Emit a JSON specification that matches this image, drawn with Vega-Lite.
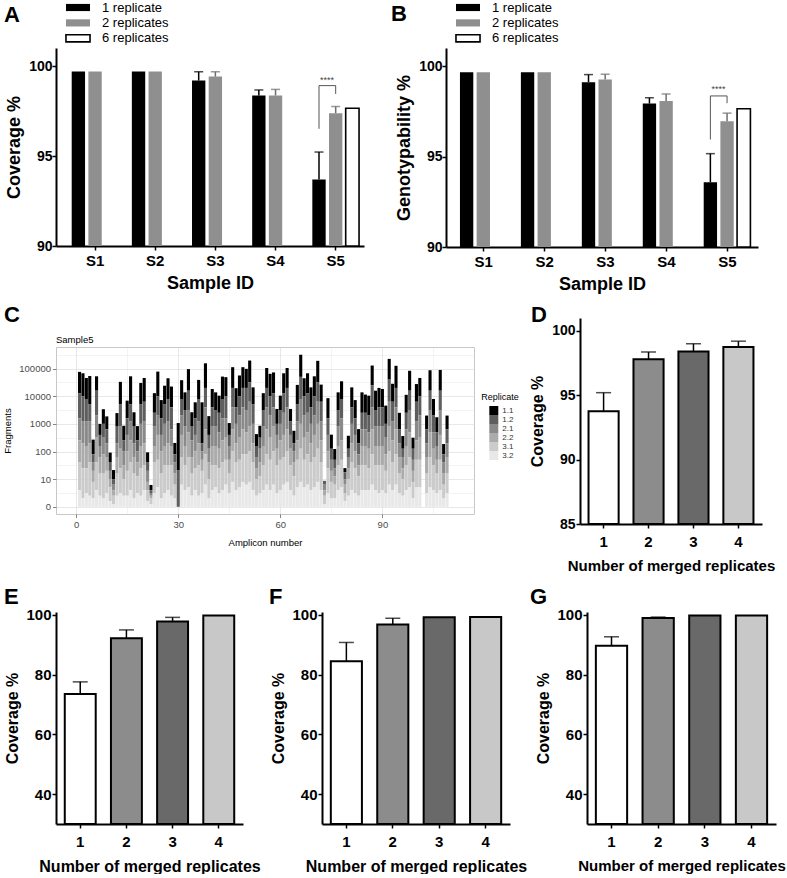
{
  "$schema": "https://vega.github.io/schema/vega-lite/v6.json",
  "padding": {"left": 2, "top": 0, "right": 2, "bottom": 0},
  "background": "white",
  "config": {
    "font": "Liberation Sans",
    "view": {"stroke": null},
    "axis": {"domainColor": "#000", "domainWidth": 2, "tickColor": "#000", "tickWidth": 1.5, "tickSize": 4, "labelColor": "#000", "labelFont": "Liberation Sans", "labelFontWeight": "bold", "labelFontSize": 14, "labelPadding": 2, "titleFont": "Liberation Sans", "titleFontWeight": "bold", "titleColor": "#000", "grid": false},
    "axisX": {"labelAngle": 0},
    "title": {"font": "Liberation Sans", "fontSize": 22, "fontWeight": "bold", "anchor": "start", "frame": "group", "offset": 0, "color": "#000", "baseline": "alphabetic"}
  },
  "datasets": {
    "frag": [
      {"a":1,"r32":0.6,"r31":1.0,"r22":0.8,"r21":0.8,"r12":0.9,"r11":0.78},
      {"a":2,"r32":0.3,"r31":1.1,"r22":0.9,"r21":0.8,"r12":0.9,"r11":0.83},
      {"a":3,"r32":0.5,"r31":0.9,"r22":0.8,"r21":0.9,"r12":0.8,"r11":0.76},
      {"a":4,"r32":0.4,"r31":1.2,"r22":0.7,"r21":0.8,"r12":0.6,"r11":1.03},
      {"a":5,"r32":0.3,"r31":0.6,"r22":0.4,"r21":0.3,"r12":0.3,"r11":0.53},
      {"a":6,"r32":0.6,"r31":1.0,"r22":0.9,"r21":0.8,"r12":0.9,"r11":0.52},
      {"a":7,"r32":0.4,"r31":0.8,"r22":0.6,"r21":0.4,"r12":0.4,"r11":0.4},
      {"a":8,"r32":0.3,"r31":0.9,"r22":0.7,"r21":0.6,"r12":0.5,"r11":0.53},
      {"a":9,"r32":0.5,"r31":0.8,"r22":0.5,"r21":0.5,"r12":0.5,"r11":0.47},
      {"a":10,"r32":0.2,"r31":0.5,"r22":0.3,"r21":0.3,"r12":0.3,"r11":0.36},
      {"a":11,"r32":0.1,"r31":0.3,"r22":0.2,"r21":0.2,"r12":0.2,"r11":0.33},
      {"a":12,"r32":0.4,"r31":0.8,"r22":0.6,"r21":0.5,"r12":0.6,"r11":0.49},
      {"a":13,"r32":0.5,"r31":0.9,"r22":0.7,"r21":0.8,"r12":0.8,"r11":0.82},
      {"a":14,"r32":0.4,"r31":0.6,"r22":0.5,"r21":0.5,"r12":0.4,"r11":0.53},
      {"a":15,"r32":0.4,"r31":0.9,"r22":0.7,"r21":0.6,"r12":0.6,"r11":0.64},
      {"a":16,"r32":0.6,"r31":1.0,"r22":0.8,"r21":0.7,"r12":0.6,"r11":1.02},
      {"a":17,"r32":0.3,"r31":0.9,"r22":0.6,"r21":0.5,"r12":0.6,"r11":0.52},
      {"a":18,"r32":0.5,"r31":0.6,"r22":0.5,"r21":0.4,"r12":0.4,"r11":0.52},
      {"a":19,"r32":0.4,"r31":1.0,"r22":0.8,"r21":0.8,"r12":0.7,"r11":0.78},
      {"a":20,"r32":0.6,"r31":0.9,"r22":0.8,"r21":0.8,"r12":0.7,"r11":0.86},
      {"a":21,"r32":0.2,"r31":0.4,"r22":0.3,"r21":0.4,"r12":0.3,"r11":0.37},
      {"a":22,"r32":0.1,"r31":0.2,"r22":0.1,"r21":0.1,"r12":0.1,"r11":0.19},
      {"a":23,"r32":0.5,"r31":1.1,"r22":0.6,"r21":0.7,"r12":0.5,"r11":0.71},
      {"a":24,"r32":0.7,"r31":1.0,"r22":0.9,"r21":0.7,"r12":0.7,"r11":0.89},
      {"a":25,"r32":0.3,"r31":0.9,"r22":0.8,"r21":0.6,"r12":0.6,"r11":0.66},
      {"a":26,"r32":0.5,"r31":1.0,"r22":0.7,"r21":0.8,"r12":0.7,"r11":0.68},
      {"a":27,"r32":0.6,"r31":0.9,"r22":0.8,"r21":0.8,"r12":0.8,"r11":0.75},
      {"a":28,"r32":0.4,"r31":1.1,"r22":0.7,"r21":0.6,"r12":0.8,"r11":0.75},
      {"a":29,"r32":0.3,"r31":0.5,"r22":0.4,"r21":0.4,"r12":0.3,"r11":0.41},
      {"a":30,"r32":0,"r31":0,"r22":0,"r21":0,"r12":1.33,"r11":1.7},
      {"a":31,"r32":0.8,"r31":1.0,"r22":0.8,"r21":0.7,"r12":0.6,"r11":0.68},
      {"a":32,"r32":0.6,"r31":0.9,"r22":0.7,"r21":0.7,"r12":0.6,"r11":0.64},
      {"a":33,"r32":0.7,"r31":1.1,"r22":0.9,"r21":0.8,"r12":0.7,"r11":0.78},
      {"a":34,"r32":0.4,"r31":0.8,"r22":0.6,"r21":0.6,"r12":0.5,"r11":0.52},
      {"a":35,"r32":0.6,"r31":0.8,"r22":0.6,"r21":0.6,"r12":0.6,"r11":0.58},
      {"a":36,"r32":0.4,"r31":1.1,"r22":0.8,"r21":0.8,"r12":0.8,"r11":0.69},
      {"a":37,"r32":0.5,"r31":0.8,"r22":0.4,"r21":0.3,"r12":0.3,"r11":1.48},
      {"a":38,"r32":0.8,"r31":1.1,"r22":0.9,"r21":0.8,"r12":0.7,"r11":0.89},
      {"a":39,"r32":0.3,"r31":0.7,"r22":0.6,"r21":0.5,"r12":0.5,"r11":0.68},
      {"a":40,"r32":0.6,"r31":0.9,"r22":0.7,"r21":0.7,"r12":0.7,"r11":0.66},
      {"a":41,"r32":0.7,"r31":0.8,"r22":0.7,"r21":0.7,"r12":0.6,"r11":0.64},
      {"a":42,"r32":0.5,"r31":0.9,"r22":0.7,"r21":0.6,"r12":0.7,"r11":0.62},
      {"a":43,"r32":0.6,"r31":1.0,"r22":0.8,"r21":0.8,"r12":0.7,"r11":0.81},
      {"a":44,"r32":0.8,"r31":0.9,"r22":0.8,"r21":0.7,"r12":0.8,"r11":0.69},
      {"a":45,"r32":0.5,"r31":0.7,"r22":0.5,"r21":0.5,"r12":0.4,"r11":0.43},
      {"a":46,"r32":0.9,"r31":1.1,"r22":0.8,"r21":0.8,"r12":0.7,"r11":0.75},
      {"a":47,"r32":0.6,"r31":1.0,"r22":0.7,"r21":0.7,"r12":0.6,"r11":0.69},
      {"a":48,"r32":0.7,"r31":1.0,"r22":0.8,"r21":0.8,"r12":0.7,"r11":0.75},
      {"a":49,"r32":0.9,"r31":1.0,"r22":0.9,"r21":0.8,"r12":0.7,"r11":0.75},
      {"a":50,"r32":0.8,"r31":1.1,"r22":0.8,"r21":0.8,"r12":0.8,"r11":0.69},
      {"a":51,"r32":0.9,"r31":1.1,"r22":0.9,"r21":0.9,"r12":0.7,"r11":0.79},
      {"a":52,"r32":0.6,"r31":1.0,"r22":0.7,"r21":0.7,"r12":0.7,"r11":0.62},
      {"a":53,"r32":0.4,"r31":0.6,"r22":0.4,"r21":0.4,"r12":0.4,"r11":0.43},
      {"a":54,"r32":0.5,"r31":0.6,"r22":0.5,"r21":0.5,"r12":0.4,"r11":0.43},
      {"a":55,"r32":0.6,"r31":0.9,"r22":0.7,"r21":0.7,"r12":0.6,"r11":0.61},
      {"a":56,"r32":0.8,"r31":1.1,"r22":0.9,"r21":0.8,"r12":0.7,"r11":0.72},
      {"a":57,"r32":0.6,"r31":1.1,"r22":0.8,"r21":0.8,"r12":0.7,"r11":0.81},
      {"a":58,"r32":0.8,"r31":1.2,"r22":0.9,"r21":0.7,"r12":0.5,"r11":0.76},
      {"a":59,"r32":0.5,"r31":1.0,"r22":0.6,"r21":0.5,"r12":0.4,"r11":0.54},
      {"a":60,"r32":0.6,"r31":1.1,"r22":0.7,"r21":0.6,"r12":0.5,"r11":0.52},
      {"a":61,"r32":0.8,"r31":1.0,"r22":0.8,"r21":0.8,"r12":0.7,"r11":0.73},
      {"a":62,"r32":0.9,"r31":1.1,"r22":0.8,"r21":0.8,"r12":0.7,"r11":0.72},
      {"a":63,"r32":0.6,"r31":0.9,"r22":0.6,"r21":0.5,"r12":0.5,"r11":0.44},
      {"a":64,"r32":0.4,"r31":0.7,"r22":0.5,"r21":0.4,"r12":0.3,"r11":0.45},
      {"a":65,"r32":0.7,"r31":1.0,"r22":0.7,"r21":0.7,"r12":0.6,"r11":0.71},
      {"a":66,"r32":0.9,"r31":1.2,"r22":0.9,"r21":0.9,"r12":0.8,"r11":0.8},
      {"a":67,"r32":0.7,"r31":1.0,"r22":0.8,"r21":0.8,"r12":0.7,"r11":0.65},
      {"a":68,"r32":0.8,"r31":1.1,"r22":0.8,"r21":0.7,"r12":0.7,"r11":0.73},
      {"a":69,"r32":0.6,"r31":1.0,"r22":0.7,"r21":0.7,"r12":0.6,"r11":0.72},
      {"a":70,"r32":0.7,"r31":1.1,"r22":0.8,"r21":0.7,"r12":0.7,"r11":0.72},
      {"a":71,"r32":0.9,"r31":1.2,"r22":0.9,"r21":0.8,"r12":0.7,"r11":0.78},
      {"a":72,"r32":0.6,"r31":1.0,"r22":0.8,"r21":0.7,"r12":0.7,"r11":0.62},
      {"a":73,"r32":0.1,"r31":0.3,"r22":0.2,"r21":0.2,"r12":0.14,"r11":0},
      {"a":74,"r32":0.5,"r31":0.9,"r22":0.6,"r21":0.6,"r12":0.6,"r11":0.73},
      {"a":75,"r32":0.3,"r31":0.6,"r22":0.4,"r21":0.4,"r12":0.4,"r11":0.51},
      {"a":76,"r32":0.3,"r31":0.5,"r22":0.3,"r21":0.3,"r12":0.3,"r11":0.39},
      {"a":77,"r32":0.6,"r31":0.9,"r22":0.7,"r21":0.7,"r12":0.6,"r11":0.64},
      {"a":78,"r32":0.7,"r31":1.0,"r22":0.7,"r21":0.8,"r12":0.7,"r11":0.64},
      {"a":79,"r32":0.2,"r31":0.3,"r22":0.3,"r21":0.2,"r12":0.25,"r11":0.15},
      {"a":80,"r32":0.4,"r31":0.6,"r22":0.4,"r21":0.4,"r12":0.3,"r11":0.47},
      {"a":81,"r32":0.6,"r31":1.0,"r22":0.7,"r21":0.7,"r12":0.6,"r11":0.72},
      {"a":82,"r32":0.5,"r31":0.9,"r22":0.6,"r21":0.6,"r12":0.6,"r11":0.66},
      {"a":83,"r32":0.4,"r31":0.7,"r22":0.4,"r21":0.4,"r12":0.4,"r11":0.51},
      {"a":84,"r32":0.6,"r31":0.9,"r22":0.7,"r21":0.6,"r12":0.6,"r11":0.74},
      {"a":85,"r32":0.6,"r31":0.9,"r22":0.7,"r21":0.6,"r12":0.6,"r11":0.66},
      {"a":86,"r32":0.6,"r31":0.8,"r22":0.7,"r21":0.6,"r12":0.6,"r11":0.72},
      {"a":87,"r32":0.8,"r31":1.1,"r22":0.9,"r21":0.8,"r12":0.8,"r11":0.71},
      {"a":88,"r32":0.6,"r31":0.9,"r22":0.7,"r21":0.7,"r12":0.6,"r11":0.7},
      {"a":89,"r32":0.5,"r31":1.0,"r22":0.7,"r21":0.7,"r12":0.7,"r11":0.7},
      {"a":90,"r32":0.6,"r31":0.9,"r22":0.7,"r21":0.7,"r12":0.7,"r11":0.66},
      {"a":91,"r32":0.5,"r31":0.8,"r22":0.6,"r21":0.6,"r12":0.5,"r11":0.66},
      {"a":92,"r32":0.8,"r31":1.2,"r22":0.9,"r21":0.9,"r12":0.8,"r11":0.75},
      {"a":93,"r32":0.6,"r31":1.0,"r22":0.8,"r21":0.7,"r12":0.7,"r11":0.65},
      {"a":94,"r32":0.8,"r31":1.1,"r22":0.9,"r21":0.8,"r12":0.7,"r11":0.8},
      {"a":95,"r32":0.5,"r31":0.7,"r22":0.6,"r21":0.5,"r12":0.5,"r11":0.6},
      {"a":96,"r32":0.4,"r31":0.6,"r22":0.4,"r21":0.4,"r12":0.3,"r11":0.46},
      {"a":97,"r32":0.6,"r31":0.9,"r22":0.7,"r21":0.6,"r12":0.6,"r11":0.65},
      {"a":98,"r32":0.7,"r31":1.1,"r22":0.9,"r21":0.8,"r12":0.7,"r11":0.72},
      {"a":99,"r32":0.3,"r31":0.6,"r22":0.4,"r21":0.4,"r12":0.4,"r11":0.4},
      {"a":100,"r32":0.7,"r31":1.0,"r22":0.7,"r21":0.7,"r12":0.7,"r11":0.64},
      {"a":101,"r32":0.7,"r31":1.0,"r22":0.8,"r21":0.8,"r12":0.7,"r11":0.66},
      {"a":103,"r32":0.5,"r31":0.7,"r22":0.6,"r21":0.5,"r12":0.5,"r11":0.5},
      {"a":104,"r32":0.7,"r31":1.1,"r22":0.9,"r21":0.8,"r12":0.7,"r11":0.74},
      {"a":105,"r32":0.6,"r31":0.9,"r22":0.6,"r21":0.6,"r12":0.6,"r11":0.6},
      {"a":106,"r32":0.5,"r31":0.7,"r22":0.5,"r21":0.5,"r12":0.5,"r11":0.54},
      {"a":107,"r32":0.6,"r31":1.1,"r22":0.9,"r21":0.9,"r12":0.7,"r11":0.75},
      {"a":108,"r32":0.3,"r31":0.5,"r22":0.4,"r21":0.4,"r12":0.3,"r11":0.37},
      {"a":109,"r32":0.5,"r31":0.7,"r22":0.6,"r21":0.5,"r12":0.5,"r11":0.5}
    ]
  },
  "vconcat": [
    {
      "spacing": 11,
      "vconcat": [
        {
          "spacing": 27,
          "resolve": {"scale": {"fill": "independent", "stroke": "independent"}, "legend": {"fill": "independent", "stroke": "independent"}},
          "hconcat": [
            {
              "width": 308, "height": 198,
              "title": {"text": "A", "dx": -52, "dy": 31},
              "layer": [
                {
                  "data": {"values": [
                    {"s":"S1","r":"1 replicate","v":99.70},
                    {"s":"S1","r":"2 replicates","v":99.70},
                    {"s":"S2","r":"1 replicate","v":99.70},
                    {"s":"S2","r":"2 replicates","v":99.70},
                    {"s":"S3","r":"1 replicate","v":99.19,"hi":99.68},
                    {"s":"S3","r":"2 replicates","v":99.41,"hi":99.68},
                    {"s":"S4","r":"1 replicate","v":98.36,"hi":98.67},
                    {"s":"S4","r":"2 replicates","v":98.36,"hi":98.70},
                    {"s":"S5","r":"1 replicate","v":93.69,"hi":95.22},
                    {"s":"S5","r":"2 replicates","v":97.38,"hi":97.75},
                    {"s":"S5","r":"6 replicates","v":97.65}
                  ]},
                  "layer": [
                    {
                      "mark": {"type": "bar", "strokeWidth": 1.6},
                      "encoding": {
                        "x": {"field": "s", "type": "nominal", "scale": {"paddingInner": 0.168, "paddingOuter": 0.144, "align": 0.81}, "axis": {"title": "Sample ID", "titleFontSize": 18, "titlePadding": 6, "labelPadding": 3, "labelFontSize": 15}},
                        "xOffset": {"field": "r", "type": "nominal", "scale": {"paddingInner": 0.2, "paddingOuter": 0.1}},
                        "y": {"field": "v", "type": "quantitative", "scale": {"domain": [90, 101], "nice": false, "zero": false}, "axis": {"values": [90, 95, 100], "title": "Coverage %", "titleFontSize": 18, "titlePadding": 5, "labelPadding": 0}},
                        "y2": {"datum": 90},
                        "fill": {"field": "r", "type": "nominal", "scale": {"domain": ["1 replicate", "2 replicates", "6 replicates"], "range": ["#000000", "#8f8f8f", "#ffffff"]},
                          "legend": {"orient": "none", "legendX": 14.5, "legendY": -48, "title": null, "symbolType": "M-1.85,-0.55H1.85V0.55H-1.85Z", "symbolSize": 169, "symbolStrokeWidth": 1.6, "labelFontSize": 13, "labelFontWeight": "normal", "labelColor": "#000", "labelOffset": 16.5, "rowPadding": 0.4}},
                        "stroke": {"field": "r", "type": "nominal", "scale": {"domain": ["1 replicate", "2 replicates", "6 replicates"], "range": ["transparent", "transparent", "#000000"]},
                          "legend": {"orient": "none", "legendX": 14.5, "legendY": -48, "title": null, "symbolType": "M-1.85,-0.55H1.85V0.55H-1.85Z", "symbolSize": 169, "symbolStrokeWidth": 1.6, "labelFontSize": 13, "labelFontWeight": "normal", "labelColor": "#000", "labelOffset": 16.5, "rowPadding": 0.4}}
                      }
                    },
                    {
                      "transform": [{"filter": "isValid(datum.hi)"}],
                      "mark": {"type": "rule", "strokeWidth": 1.5},
                      "encoding": {
                        "x": {"field": "s", "type": "nominal"},
                        "xOffset": {"field": "r", "type": "nominal"},
                        "y": {"field": "v", "type": "quantitative"},
                        "y2": {"field": "hi"},
                        "color": {"condition": {"test": "datum.r == '2 replicates'", "value": "#6e6e6e"}, "value": "#000000"}
                      }
                    },
                    {
                      "transform": [{"filter": "isValid(datum.hi)"}],
                      "mark": {"type": "tick", "orient": "horizontal", "size": 9, "thickness": 1.5},
                      "encoding": {
                        "x": {"field": "s", "type": "nominal"},
                        "xOffset": {"field": "r", "type": "nominal"},
                        "y": {"field": "hi", "type": "quantitative"},
                        "color": {"condition": {"test": "datum.r == '2 replicates'", "value": "#6e6e6e"}, "value": "#000000"}
                      }
                    }
                  ]
                },
                {
                  "data": {"values": [
                    {"s":"S5","r":"1 replicate","v":96.51,"k":1},
                    {"s":"S5","r":"1 replicate","v":98.91,"k":2},
                    {"s":"S5","r":"2 replicates","v":98.91,"k":3},
                    {"s":"S5","r":"2 replicates","v":98.45,"k":4}
                  ]},
                  "mark": {"type": "line", "color": "#555555", "strokeWidth": 1},
                  "encoding": {
                    "x": {"field": "s", "type": "nominal"},
                    "xOffset": {"field": "r", "type": "nominal"},
                    "y": {"field": "v", "type": "quantitative"},
                    "order": {"field": "k", "type": "quantitative"}
                  }
                },
                {
                  "data": {"values": [{"s":"S5","r":"1 replicate","v":99.24}]},
                  "mark": {"type": "text", "text": "****", "fontSize": 9, "dx": 8, "color": "#444444", "baseline": "middle"},
                  "encoding": {
                    "x": {"field": "s", "type": "nominal"},
                    "xOffset": {"field": "r", "type": "nominal"},
                    "y": {"field": "v", "type": "quantitative"}
                  }
                }
              ]
            },
            {
              "width": 312, "height": 199,
              "title": {"text": "B", "dx": -55, "dy": 30},
              "layer": [
                {
                  "data": {"values": [
                    {"s":"S1","r":"1 replicate","v":99.66},
                    {"s":"S1","r":"2 replicates","v":99.66},
                    {"s":"S2","r":"1 replicate","v":99.66},
                    {"s":"S2","r":"2 replicates","v":99.66},
                    {"s":"S3","r":"1 replicate","v":99.11,"hi":99.53},
                    {"s":"S3","r":"2 replicates","v":99.26,"hi":99.55},
                    {"s":"S4","r":"1 replicate","v":97.93,"hi":98.25},
                    {"s":"S4","r":"2 replicates","v":98.07,"hi":98.46},
                    {"s":"S5","r":"1 replicate","v":93.58,"hi":95.16},
                    {"s":"S5","r":"2 replicates","v":96.95,"hi":97.40},
                    {"s":"S5","r":"6 replicates","v":97.64}
                  ]},
                  "layer": [
                    {
                      "mark": {"type": "bar", "strokeWidth": 1.6},
                      "encoding": {
                        "x": {"field": "s", "type": "nominal", "scale": {"paddingInner": 0.168, "paddingOuter": 0.144, "align": 0.7}, "axis": {"title": "Sample ID", "titleFontSize": 18, "titlePadding": 6, "labelPadding": 3, "labelFontSize": 15}},
                        "xOffset": {"field": "r", "type": "nominal", "scale": {"paddingInner": 0.2, "paddingOuter": 0.1}},
                        "y": {"field": "v", "type": "quantitative", "scale": {"domain": [90, 101], "nice": false, "zero": false}, "axis": {"values": [90, 95, 100], "title": "Genotypability %", "titleFontSize": 18, "titlePadding": 5, "labelPadding": 0}},
                        "y2": {"datum": 90},
                        "fill": {"field": "r", "type": "nominal", "scale": {"domain": ["1 replicate", "2 replicates", "6 replicates"], "range": ["#000000", "#8f8f8f", "#ffffff"]},
                          "legend": {"orient": "none", "legendX": 14.5, "legendY": -48, "title": null, "symbolType": "M-1.85,-0.55H1.85V0.55H-1.85Z", "symbolSize": 169, "symbolStrokeWidth": 1.6, "labelFontSize": 13, "labelFontWeight": "normal", "labelColor": "#000", "labelOffset": 16.5, "rowPadding": 0.4}},
                        "stroke": {"field": "r", "type": "nominal", "scale": {"domain": ["1 replicate", "2 replicates", "6 replicates"], "range": ["transparent", "transparent", "#000000"]},
                          "legend": {"orient": "none", "legendX": 14.5, "legendY": -48, "title": null, "symbolType": "M-1.85,-0.55H1.85V0.55H-1.85Z", "symbolSize": 169, "symbolStrokeWidth": 1.6, "labelFontSize": 13, "labelFontWeight": "normal", "labelColor": "#000", "labelOffset": 16.5, "rowPadding": 0.4}}
                      }
                    },
                    {
                      "transform": [{"filter": "isValid(datum.hi)"}],
                      "mark": {"type": "rule", "strokeWidth": 1.5},
                      "encoding": {
                        "x": {"field": "s", "type": "nominal"},
                        "xOffset": {"field": "r", "type": "nominal"},
                        "y": {"field": "v", "type": "quantitative"},
                        "y2": {"field": "hi"},
                        "color": {"condition": {"test": "datum.r == '2 replicates'", "value": "#6e6e6e"}, "value": "#000000"}
                      }
                    },
                    {
                      "transform": [{"filter": "isValid(datum.hi)"}],
                      "mark": {"type": "tick", "orient": "horizontal", "size": 9, "thickness": 1.5},
                      "encoding": {
                        "x": {"field": "s", "type": "nominal"},
                        "xOffset": {"field": "r", "type": "nominal"},
                        "y": {"field": "hi", "type": "quantitative"},
                        "color": {"condition": {"test": "datum.r == '2 replicates'", "value": "#6e6e6e"}, "value": "#000000"}
                      }
                    }
                  ]
                },
                {
                  "data": {"values": [
                    {"s":"S5","r":"1 replicate","v":95.94,"k":1},
                    {"s":"S5","r":"1 replicate","v":98.35,"k":2},
                    {"s":"S5","r":"2 replicates","v":98.35,"k":3},
                    {"s":"S5","r":"2 replicates","v":97.95,"k":4}
                  ]},
                  "mark": {"type": "line", "color": "#555555", "strokeWidth": 1},
                  "encoding": {
                    "x": {"field": "s", "type": "nominal"},
                    "xOffset": {"field": "r", "type": "nominal"},
                    "y": {"field": "v", "type": "quantitative"},
                    "order": {"field": "k", "type": "quantitative"}
                  }
                },
                {
                  "data": {"values": [{"s":"S5","r":"1 replicate","v":98.71}]},
                  "mark": {"type": "text", "text": "****", "fontSize": 9, "dx": 8, "color": "#444444", "baseline": "middle"},
                  "encoding": {
                    "x": {"field": "s", "type": "nominal"},
                    "xOffset": {"field": "r", "type": "nominal"},
                    "y": {"field": "v", "type": "quantitative"}
                  }
                }
              ]
            }
          ]
        },
        {
          "spacing": 54,
          "hconcat": [
            {
              "spacing": 0,
              "vconcat": [
                {
                  "width": 418, "height": 16,
                  "title": {"text": "C", "dx": -52, "dy": 13},
                  "data": {"values": []},
                  "mark": {"type": "rule"},
                  "encoding": {}
                },
                {
                  "width": 418, "height": 167,
                  "view": {"stroke": "#c8c8c8", "strokeWidth": 1},
                  "title": {"text": "Sample5", "fontSize": 9.5, "fontWeight": "normal", "offset": 3, "dx": 0, "dy": 0},
                  "data": {"name": "frag"},
                  "transform": [{"fold": ["r11", "r12", "r21", "r22", "r31", "r32"], "as": ["rep", "v"]}],
                  "mark": {"type": "bar", "width": 3.1},
                  "encoding": {
                    "x": {"field": "a", "type": "quantitative", "scale": {"domain": [-4.45, 115.45], "nice": false, "zero": false},
                      "axis": {"values": [0, 15, 30, 45, 60, 75, 90, 105], "labelExpr": "datum.value % 30 == 0 ? datum.label : ''", "labelOverlap": false, "grid": true, "gridColor": "#dedede", "gridWidth": {"condition": {"test": "datum.value % 30 == 0", "value": 0.7}, "value": 0.35}, "tickOpacity": {"condition": {"test": "datum.value % 30 == 0", "value": 1}, "value": 0}, "domain": false, "tickSize": 3.5, "tickWidth": 0.6, "tickColor": "#333333", "labelFontWeight": "normal", "labelFontSize": 9.5, "labelColor": "#4d4d4d", "labelPadding": 2, "title": "Amplicon number", "titleFontWeight": "normal", "titleFontSize": 9.5, "titlePadding": 8}},
                    "y": {"field": "v", "type": "quantitative", "stack": "zero", "scale": {"domain": [-0.26, 5.78], "nice": false, "zero": false},
                      "axis": {"values": [0, 0.5, 1, 1.5, 2, 2.5, 3, 3.5, 4, 4.5, 5, 5.5], "labelExpr": "datum.value % 1 == 0 ? (datum.value == 0 ? '0' : format(pow(10, datum.value), 'd')) : ''", "labelOverlap": false, "grid": true, "gridColor": "#dedede", "gridWidth": {"condition": {"test": "datum.value % 1 == 0", "value": 0.7}, "value": 0.35}, "tickOpacity": {"condition": {"test": "datum.value % 1 == 0", "value": 1}, "value": 0}, "domain": false, "tickSize": 3.5, "tickWidth": 0.6, "tickColor": "#333333", "labelFontWeight": "normal", "labelFontSize": 9.5, "labelColor": "#4d4d4d", "labelPadding": 2, "title": "Fragments", "titleFontWeight": "normal", "titleFontSize": 9.5, "titlePadding": 6}},
                    "color": {"field": "rep", "type": "nominal", "scale": {"domain": ["r11", "r12", "r21", "r22", "r31", "r32"], "range": ["#000000", "#5e5e5e", "#8a8a8a", "#ababab", "#cbcbcb", "#e8e8e8"]},
                      "legend": {"orient": "none", "legendX": 425.3, "legendY": 345, "title": "Replicate", "titleFontSize": 9, "titleFontWeight": "normal", "titleColor": "#000", "titlePadding": 4, "labelFontSize": 8, "labelColor": "#333333", "labelFontWeight": "normal", "symbolType": "square", "symbolSize": 81, "symbolStrokeWidth": 0, "symbolOpacity": 1, "symbolOffset": 8, "rowPadding": 0, "labelOffset": 4, "labelExpr": "substring(datum.label, 1, 2) + '.' + substring(datum.label, 2, 3)"}},
                    "order": {"field": "rep", "sort": "descending"}
                  }
                }
              ]
            },
            {
              "width": 182, "height": 206,
              "title": {"text": "D", "dx": -49, "dy": 13},
              "data": {"values": [
                {"n":"1","v":93.75,"hi":95.2},
                {"n":"2","v":97.8,"hi":98.36},
                {"n":"3","v":98.4,"hi":99.0},
                {"n":"4","v":98.75,"hi":99.2}
              ]},
              "layer": [
                {
                  "mark": {"type": "bar", "stroke": "#000000", "strokeWidth": 2},
                  "encoding": {
                    "x": {"field": "n", "type": "nominal", "scale": {"paddingInner": 0.33, "paddingOuter": 0.19}, "axis": {"title": "Number of merged replicates", "titleFontSize": 15, "titlePadding": 9, "labelPadding": 6, "labelFontSize": 15}},
                    "y": {"field": "v", "type": "quantitative", "scale": {"domain": [85, 101], "nice": false, "zero": false}, "axis": {"values": [85, 90, 95, 100], "title": "Coverage %", "titleFontSize": 16, "titlePadding": 6, "labelPadding": 1, "labelFontSize": 14}},
                    "y2": {"datum": 85},
                    "fill": {"condition": [{"test": "datum.n == '1'", "value": "#ffffff"}, {"test": "datum.n == '2'", "value": "#8c8c8c"}, {"test": "datum.n == '3'", "value": "#696969"}], "value": "#c8c8c8"}
                  }
                },
                {
                  "transform": [{"filter": "isValid(datum.hi)"}],
                  "mark": {"type": "rule", "strokeWidth": 1.5, "color": "#000000"},
                  "encoding": {"x": {"field": "n", "type": "nominal"}, "y": {"field": "v", "type": "quantitative"}, "y2": {"field": "hi"}}
                },
                {
                  "transform": [{"filter": "isValid(datum.hi)"}],
                  "mark": {"type": "tick", "orient": "horizontal", "size": 15, "thickness": 1.5, "color": "#000000"},
                  "encoding": {"x": {"field": "n", "type": "nominal"}, "y": {"field": "hi", "type": "quantitative"}}
                }
              ]
            }
          ]
        }
      ]
    },
    {
      "spacing": 3,
      "hconcat": [
        {
          "spacing": 8,
          "hconcat": [
            {
              "width": 187, "height": 212,
              "title": {"text": "E", "dx": -52, "dy": 5},
              "data": {"values": [
                {"n":"1","v":73.5,"hi":77.6},
                {"n":"2","v":92.2,"hi":95.0},
                {"n":"3","v":97.8,"hi":99.2},
                {"n":"4","v":99.8}
              ]},
              "layer": [
                {
                  "mark": {"type": "bar", "stroke": "#000000", "strokeWidth": 2},
                  "encoding": {
                    "x": {"field": "n", "type": "nominal", "scale": {"paddingInner": 0.33, "paddingOuter": 0.19}, "axis": {"title": "Number of merged replicates", "titleFontSize": 16, "titlePadding": 9, "labelPadding": 6, "labelFontSize": 15}},
                    "y": {"field": "v", "type": "quantitative", "scale": {"domain": [30, 101], "nice": false, "zero": false}, "axis": {"values": [40, 60, 80, 100], "title": "Coverage %", "titleFontSize": 16, "titlePadding": 5, "labelPadding": 1, "labelFontSize": 15}},
                    "y2": {"datum": 30},
                    "fill": {"condition": [{"test": "datum.n == '1'", "value": "#ffffff"}, {"test": "datum.n == '2'", "value": "#8c8c8c"}, {"test": "datum.n == '3'", "value": "#696969"}], "value": "#c8c8c8"}
                  }
                },
                {
                  "transform": [{"filter": "isValid(datum.hi)"}],
                  "mark": {"type": "rule", "strokeWidth": 1.5, "color": "#000000"},
                  "encoding": {"x": {"field": "n", "type": "nominal"}, "y": {"field": "v", "type": "quantitative"}, "y2": {"field": "hi"}}
                },
                {
                  "transform": [{"filter": "isValid(datum.hi)"}],
                  "mark": {"type": "tick", "orient": "horizontal", "size": 15, "thickness": 1.5, "color": "#000000"},
                  "encoding": {"x": {"field": "n", "type": "nominal"}, "y": {"field": "hi", "type": "quantitative"}}
                }
              ]
            },
            {
              "width": 188, "height": 212,
              "title": {"text": "F", "dx": -53, "dy": 5},
              "data": {"values": [
                {"n":"1","v":84.5,"hi":90.8},
                {"n":"2","v":96.8,"hi":98.9},
                {"n":"3","v":99.2},
                {"n":"4","v":99.3}
              ]},
              "layer": [
                {
                  "mark": {"type": "bar", "stroke": "#000000", "strokeWidth": 2},
                  "encoding": {
                    "x": {"field": "n", "type": "nominal", "scale": {"paddingInner": 0.33, "paddingOuter": 0.19}, "axis": {"title": "Number of merged replicates", "titleFontSize": 16, "titlePadding": 9, "labelPadding": 6, "labelFontSize": 15}},
                    "y": {"field": "v", "type": "quantitative", "scale": {"domain": [30, 101], "nice": false, "zero": false}, "axis": {"values": [40, 60, 80, 100], "title": "Coverage %", "titleFontSize": 16, "titlePadding": 5, "labelPadding": 1, "labelFontSize": 15}},
                    "y2": {"datum": 30},
                    "fill": {"condition": [{"test": "datum.n == '1'", "value": "#ffffff"}, {"test": "datum.n == '2'", "value": "#8c8c8c"}, {"test": "datum.n == '3'", "value": "#696969"}], "value": "#c8c8c8"}
                  }
                },
                {
                  "transform": [{"filter": "isValid(datum.hi)"}],
                  "mark": {"type": "rule", "strokeWidth": 1.5, "color": "#000000"},
                  "encoding": {"x": {"field": "n", "type": "nominal"}, "y": {"field": "v", "type": "quantitative"}, "y2": {"field": "hi"}}
                },
                {
                  "transform": [{"filter": "isValid(datum.hi)"}],
                  "mark": {"type": "tick", "orient": "horizontal", "size": 15, "thickness": 1.5, "color": "#000000"},
                  "encoding": {"x": {"field": "n", "type": "nominal"}, "y": {"field": "hi", "type": "quantitative"}}
                }
              ]
            }
          ]
        },
        {
          "width": 189, "height": 212,
          "title": {"text": "G", "dx": -57, "dy": 5},
          "data": {"values": [
            {"n":"1","v":89.7,"hi":92.7},
            {"n":"2","v":99.0,"hi":99.3},
            {"n":"3","v":99.8},
            {"n":"4","v":99.8}
          ]},
          "layer": [
            {
              "mark": {"type": "bar", "stroke": "#000000", "strokeWidth": 2},
              "encoding": {
                "x": {"field": "n", "type": "nominal", "scale": {"paddingInner": 0.33, "paddingOuter": 0.19}, "axis": {"title": "Number of merged replicates", "titleFontSize": 15, "titlePadding": 9, "labelPadding": 6, "labelFontSize": 15}},
                "y": {"field": "v", "type": "quantitative", "scale": {"domain": [30, 101], "nice": false, "zero": false}, "axis": {"values": [40, 60, 80, 100], "title": "Coverage %", "titleFontSize": 16, "titlePadding": 5, "labelPadding": 1, "labelFontSize": 15}},
                "y2": {"datum": 30},
                "fill": {"condition": [{"test": "datum.n == '1'", "value": "#ffffff"}, {"test": "datum.n == '2'", "value": "#8c8c8c"}, {"test": "datum.n == '3'", "value": "#696969"}], "value": "#c8c8c8"}
              }
            },
            {
              "transform": [{"filter": "isValid(datum.hi)"}],
              "mark": {"type": "rule", "strokeWidth": 1.5, "color": "#000000"},
              "encoding": {"x": {"field": "n", "type": "nominal"}, "y": {"field": "v", "type": "quantitative"}, "y2": {"field": "hi"}}
            },
            {
              "transform": [{"filter": "isValid(datum.hi)"}],
              "mark": {"type": "tick", "orient": "horizontal", "size": 15, "thickness": 1.5, "color": "#000000"},
              "encoding": {"x": {"field": "n", "type": "nominal"}, "y": {"field": "hi", "type": "quantitative"}}
            }
          ]
        }
      ]
    }
  ],
  "spacing": 12
}
